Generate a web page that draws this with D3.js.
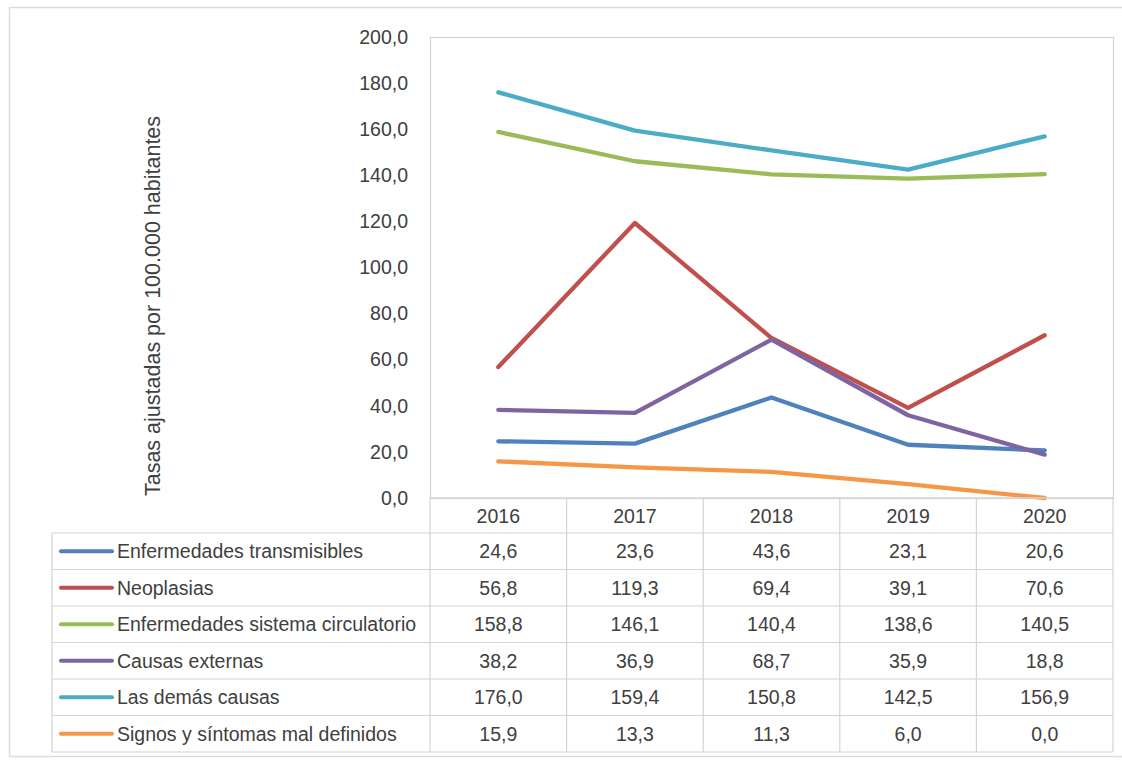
<!DOCTYPE html>
<html><head><meta charset="utf-8">
<script src="https://cdn.jsdelivr.net/npm/d3@7"></script>
<style>
html,body{margin:0;padding:0;background:#fff;}
svg{display:block;font-family:"Liberation Sans",Arial,sans-serif;}
</style></head>
<body><svg id="c" width="1122" height="761"></svg>
<script>
const years = ["2016","2017","2018","2019","2020"];
const seriesNames = ["Enfermedades transmisibles","Neoplasias","Enfermedades sistema circulatorio","Causas externas","Las demás causas","Signos y síntomas mal definidos"];
const transmisibles = [24.6,23.6,43.6,23.1,20.6];
const neoplasias = [56.8,119.3,69.4,39.1,70.6];
const circulatorio = [158.8,146.1,140.4,138.6,140.5];
const externas = [38.2,36.9,68.7,35.9,18.8];
const demas = [176.0,159.4,150.8,142.5,156.9];
const signos = [15.9,13.3,11.3,6.0,0.0];
const colors = ["#4F81BD","#C0504D","#9BBB59","#8064A2","#4BACC6","#F79646"];
const yTicks = [0,20,40,60,80,100,120,140,160,180,200];
const yTitle = "Tasas ajustadas por 100.000 habitantes";

const allSeries = [transmisibles,neoplasias,circulatorio,externas,demas,signos];
const svg = d3.select("#c");
const fmt = v => d3.format(".1f")(v).replace(".", ",");
const textColor = "#404040", gridColor = "#d4d4d4";
const FS = 19.5;

// outer frame
svg.append("rect").attr("x",9.5).attr("y",7.5).attr("width",1130).attr("height",749)
  .attr("fill","none").attr("stroke","#dcdcdc").attr("stroke-width",1.5);

const plotL = 430, plotR = 1113, plotT = 37, plotB = 498;
const legL = 52;
const x = d3.scaleBand().domain(years).range([plotL, plotR]).padding(0);
const y = d3.scaleLinear().domain([0,200]).range([plotB, plotT]);

// plot area border
svg.append("rect").attr("x",plotL+0.5).attr("y",plotT+0.5).attr("width",plotR-plotL).attr("height",plotB-plotT)
  .attr("fill","none").attr("stroke",gridColor).attr("stroke-width",1.2);

// y axis
const yAxis = d3.axisLeft(y).tickValues(yTicks).tickFormat(fmt).tickSize(0).tickPadding(22);
const gy = svg.append("g").attr("transform",`translate(${plotL},0)`).call(yAxis);
gy.select(".domain").remove();
gy.selectAll("text").attr("font-size",FS).attr("fill",textColor).attr("font-family","Liberation Sans, Arial, sans-serif");

// y title
svg.append("text").attr("transform",`translate(160,306) rotate(-90)`)
  .attr("text-anchor","middle").attr("font-size",21.5).attr("fill",textColor).text(yTitle);

// lines
const line = d3.line().x((d,i)=>x(years[i])+x.bandwidth()/2).y(d=>y(d));
allSeries.forEach((s,k)=>{
  svg.append("path").datum(s).attr("d",line).attr("fill","none")
    .attr("stroke",colors[k]).attr("stroke-width",4.3).attr("stroke-linejoin","round").attr("stroke-linecap","round");
});

// data table
const headerB = 533, rowH = 36.5;
const rowY = i => headerB + i*rowH;
const tableB = rowY(seriesNames.length);
const tg = svg.append("g");
tg.append("line").attr("x1",plotL).attr("x2",plotR).attr("y1",plotB).attr("y2",plotB).attr("stroke",gridColor).attr("stroke-width",1.5);
for(let i=0;i<=seriesNames.length;i++){
  tg.append("line").attr("x1",legL).attr("x2",plotR).attr("y1",rowY(i)).attr("y2",rowY(i)).attr("stroke",gridColor).attr("stroke-width",1.2);
}
tg.append("line").attr("x1",legL).attr("x2",legL).attr("y1",headerB).attr("y2",tableB).attr("stroke",gridColor).attr("stroke-width",1.2);
years.forEach(yr=>{
  tg.append("line").attr("x1",x(yr)).attr("x2",x(yr)).attr("y1",plotB).attr("y2",tableB).attr("stroke",gridColor).attr("stroke-width",1.2);
});
tg.append("line").attr("x1",plotR).attr("x2",plotR).attr("y1",plotB).attr("y2",tableB).attr("stroke",gridColor).attr("stroke-width",1.2);

years.forEach(yr=>{
  tg.append("text").attr("x",x(yr)+x.bandwidth()/2).attr("y",(plotB+headerB)/2).attr("dy","0.36em")
    .attr("text-anchor","middle").attr("font-size",FS).attr("fill",textColor).text(yr);
});
seriesNames.forEach((n,k)=>{
  const cy = rowY(k)+rowH/2;
  tg.append("line").attr("x1",61).attr("x2",112).attr("y1",cy).attr("y2",cy)
    .attr("stroke",colors[k]).attr("stroke-width",4).attr("stroke-linecap","round");
  tg.append("text").attr("x",117).attr("y",cy).attr("dy","0.36em").attr("font-size",FS).attr("fill",textColor).text(n);
  allSeries[k].forEach((v,i)=>{
    tg.append("text").attr("x",x(years[i])+x.bandwidth()/2).attr("y",cy).attr("dy","0.36em")
      .attr("text-anchor","middle").attr("font-size",FS).attr("fill",textColor).text(fmt(v));
  });
});
</script></body></html>
